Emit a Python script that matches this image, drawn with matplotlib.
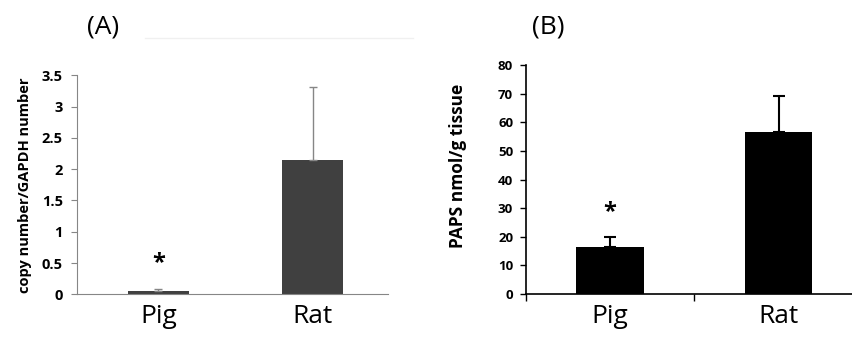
import matplotlib
matplotlib.use("Agg")
import matplotlib.pyplot as plt
from matplotlib.lines import Line2D

categories = ["Pig", "Rat"]
copy_number = [0.05, 2.15]
copy_err = [0.04, 1.17]
paps = [16.4, 56.5]
paps_err = [3.5, 12.8]

fam = ["Open Sans", "DejaVu Sans"]
plt.rcParams['font.family'] = fam

fig = plt.figure(figsize=(8.52, 3.38), dpi=100)

# Panel A
axA = fig.add_axes([0.090, 0.1293, 0.3654, 0.648])
gray = "#868686"
xA = [0, 1]
axA.bar(xA, copy_number, width=0.4, color="#404040", zorder=2)
axA.errorbar(xA, copy_number, yerr=[[0, 0], copy_err], fmt="none",
             ecolor=gray, elinewidth=1, capsize=3, capthick=1, zorder=3)
axA.set_xlim(-0.531, 1.49)
axA.set_ylim(0, 3.5)
axA.set_yticks([0, 0.5, 1, 1.5, 2, 2.5, 3, 3.5])
axA.set_yticklabels(["0", "0.5", "1", "1.5", "2", "2.5", "3", "3.5"],
                    fontsize=10.5, fontweight="bold")
axA.set_xticks(xA)
axA.set_xticklabels(categories, fontsize=19)
axA.tick_params(axis="x", length=0, pad=7)
axA.tick_params(axis="y", direction="out", length=4, color=gray, pad=6)
for s in ["top", "right"]:
    axA.spines[s].set_visible(False)
for s in ["left", "bottom"]:
    axA.spines[s].set_color(gray)
axA.set_ylabel("copy number/GAPDH number", fontsize=10.5, fontweight="bold", labelpad=7)
axA.text(0, 0.5, "*", ha="center", va="center", fontsize=17, fontweight="bold")
fig.text(0.102, 0.92, "(A)", fontsize=19, ha="left", va="center")
fig.add_artist(Line2D([0.17, 0.485], [0.889, 0.889], color="#f0f0f0", lw=1,
                      transform=fig.transFigure))

# Panel B
axB = fig.add_axes([0.617, 0.130, 0.3958, 0.6775])
xB = [0.5, 1.5]
axB.bar(xB, paps, width=0.4, color="black", zorder=2)
axB.errorbar(xB, paps, yerr=[[0, 0], paps_err], fmt="none",
             ecolor="black", elinewidth=1.5, capsize=4.5, capthick=1.5, zorder=3)
axB.set_xlim(0, 2)
axB.set_ylim(0, 80)
axB.set_yticks(range(0, 81, 10))
axB.set_yticklabels([str(v) for v in range(0, 81, 10)], fontsize=9.5, fontweight="bold")
axB.set_xticks([0, 1, 2])
axB.set_xticklabels(["", "", ""])
axB.set_xticks(xB, minor=True)
axB.set_xticklabels(categories, minor=True, fontsize=19)
axB.tick_params(axis="x", which="major", direction="out", length=5, width=1, color="black")
axB.tick_params(axis="x", which="minor", length=0, pad=7)
axB.tick_params(axis="y", direction="out", length=4, width=1, color="black", pad=5)
for s in ["top", "right"]:
    axB.spines[s].set_visible(False)
for s in ["left", "bottom"]:
    axB.spines[s].set_color("black")
    axB.spines[s].set_linewidth(1.2)
axB.set_ylabel("PAPS nmol/g tissue", fontsize=12.5, fontweight="bold")
axB.yaxis.set_label_coords(-0.175, 0.56)
axB.text(0.5, 28.6, "*", ha="center", va="center", fontsize=17, fontweight="bold")
fig.text(0.624, 0.92, "(B)", fontsize=19, ha="left", va="center")

fig.savefig("out.png", dpi=100)
